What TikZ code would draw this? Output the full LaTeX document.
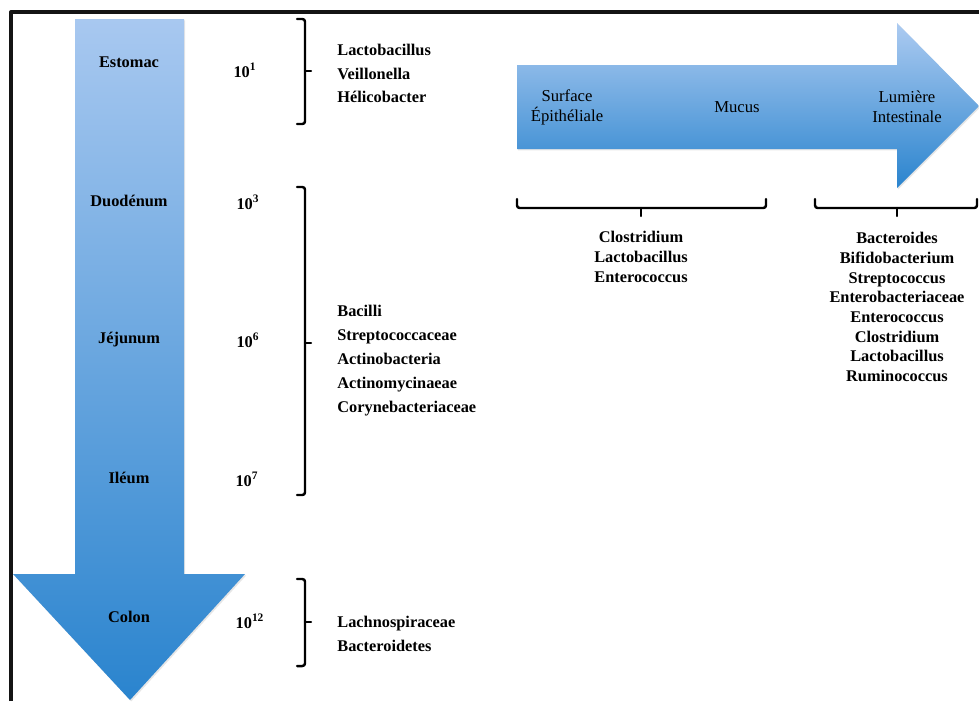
\documentclass[tikz,border=0pt]{standalone}
\usepackage{fontspec}
\setmainfont{Liberation Serif}
\usetikzlibrary{positioning,shadows}
\definecolor{arrow_light}{RGB}{168,200,240}
\definecolor{arrow_dark}{RGB}{42,132,206}
\definecolor{frame_gray}{RGB}{20,20,20}

\begin{document}
\begin{tikzpicture}[x=0.02cm,y=-0.02cm,line join=round]
    \tikzstyle{txt}=[text=black,inner sep=0pt,font=\fontsize{9.3}{11}\selectfont\bfseries]
    \tikzstyle{organ}=[style=txt]
    \tikzstyle{count}=[style=txt]
    \tikzstyle{taxa}=[style=txt,anchor=west,align=left,font=\fontsize{9.3}{13.6}\selectfont\bfseries]
    \tikzstyle{taxac}=[style=txt,align=center,font=\fontsize{9.3}{11.2}\selectfont\bfseries]
    \tikzstyle{layer}=[text=black,inner sep=0pt,align=center,font=\fontsize{9.5}{11.4}\selectfont]
    \tikzstyle{bigarrow}=[drop shadow={opacity=0.2,shadow xshift=0.7pt,shadow yshift=-0.8pt}]
    \tikzstyle{brkt}=[line width=1.4pt,rounded corners=1.5pt,line cap=round]

    \useasboundingbox (0,0) rectangle (979,701);
    \draw[frame_gray,line width=1.9pt] (11,701) -- (11,12) -- (979,12);

    % digestive tract arrow
    \shade[bigarrow,top color=arrow_light,bottom color=arrow_dark]
      (75,19) -- (184,19) -- (184,574) -- (245,574) -- (130,700)
      -- (13,574) -- (75,574) -- cycle;

    % intestinal wall arrow
    \shade[bigarrow,top color=arrow_light!95!white,bottom color=arrow_dark]
      (517,65) -- (897,65) -- (897,23) -- (979,106) -- (897,188)
      -- (897,149) -- (517,149) -- cycle;

    \node[organ] (est) at (129,62)  {Estomac};
    \node[organ] (duo) at (129,201) {Duodénum};
    \node[organ] (jej) at (129,340) {Jéjunum};
    \node[organ] (ile) at (129,478) {Iléum};
    \node[organ] (col) at (129,617) {Colon};

    \node[count] (n1)  at (245,70)  {10\textsuperscript{1}};
    \node[count] (n3)  at (248,202) {10\textsuperscript{3}};
    \node[count] (n6)  at (248,340) {10\textsuperscript{6}};
    \node[count] (n7)  at (247,479) {10\textsuperscript{7}};
    \node[count] (n12) at (250,621) {10\textsuperscript{12}};

    \draw[brkt] (297,19) -- (305,19) -- (305,124) -- (297,124);
    \draw[brkt] (305,71) -- (311,71);
    \draw[brkt] (297,187) -- (305,187) -- (305,495) -- (297,495);
    \draw[brkt] (305,343) -- (311,343);
    \draw[brkt] (297,579) -- (305,579) -- (305,666) -- (297,666);
    \draw[brkt] (305,622) -- (311,622);

    \node[taxa] (gastric) at (337,73.5)
      {Lactobacillus\\Veillonella\\Hélicobacter};
    \node[taxa] (small) at (337,360.5)
      {Bacilli\\Streptococcaceae\\Actinobacteria\\Actinomycinaeae\\Corynebacteriaceae};
    \node[taxa] (colonic) at (337,633.5)
      {Lachnospiraceae\\Bacteroidetes};

    \node[layer] (surf)  at (567,107) {Surface\\Épithéliale};
    \node[layer] (mucus) at (737,107) {Mucus};
    \node[layer] (lum)   at (907,107) {Lumière\\Intestinale};

    \draw[brkt] (517,199) -- (517,208) -- (766,208) -- (766,199);
    \draw[brkt] (641,208) -- (641,216);
    \draw[brkt] (815,199) -- (815,208) -- (977,208) -- (977,199);
    \draw[brkt] (897,208) -- (897,216);

    \node[taxac] (mucosal) at (641,257)
      {Clostridium\\Lactobacillus\\Enterococcus};
    \node[taxac] (luminal) at (897,307)
      {Bacteroides\\Bifidobacterium\\Streptococcus\\Enterobacteriaceae\\Enterococcus\\Clostridium\\Lactobacillus\\Ruminococcus};
  \end{tikzpicture}
\end{document}
